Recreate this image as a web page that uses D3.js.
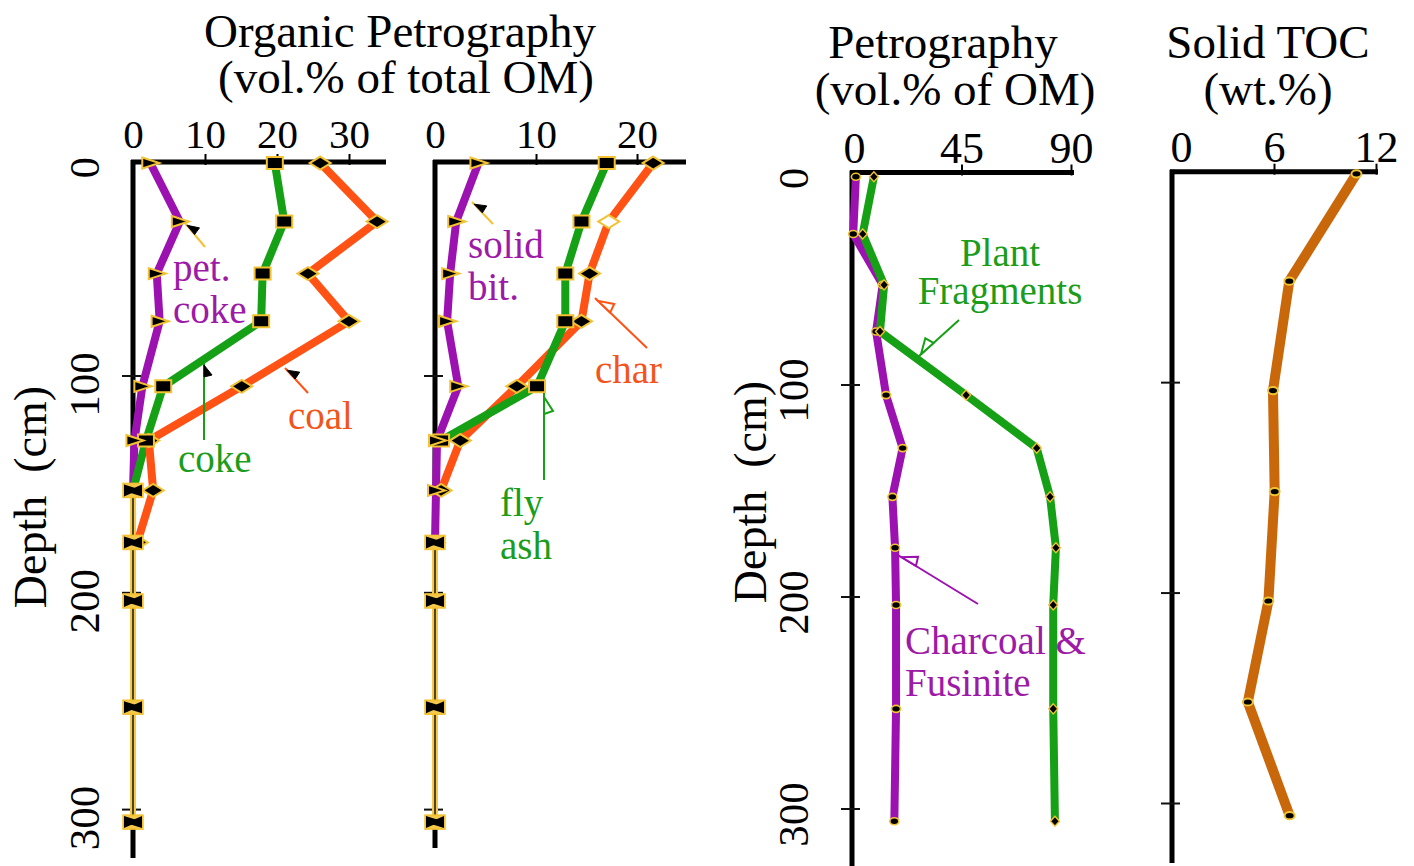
<!DOCTYPE html>
<html>
<head>
<meta charset="utf-8">
<script src="https://cdn.jsdelivr.net/npm/d3@7"></script>
<style>
  html, body { margin: 0; padding: 0; background: #fff; }
  svg { display: block; font-family: "Liberation Serif", "Times New Roman", serif; }
</style>
</head>
<body>
<svg id="chart" width="1414" height="866"></svg>
<script>
// ---- Sample depths (cm) ----
const sampleDepths = [2, 29, 53, 75, 105, 130, 153, 177, 204, 253, 306];
const tocDepths    = [1, 52, 104, 152, 204, 252, 306];
const depthTicks   = [0, 100, 200, 300];

// ---- Organic petrography, vol.% of total OM (left pair of columns) ----
const petCoke  = [2.4, 6.5, 3.3, 3.7, 1.3, 0.2, 0, null, null, null, null];
const coke     = [19.7, 21.0, 18.0, 17.8, 4.2, 1.8, 0, null, null, null, null];
const coal     = [26.0, 33.9, 24.3, 30.0, 15.1, 2.2, 2.8, 0.6, null, null, null];
const zeroA    = [null, null, null, null, null, null, 0, 0, 0, 0, 0];

const solidBit = [4.3, 2.1, 1.5, 1.2, 2.3, 0.2, 0.1, 0, null, null, null];
const flyAsh   = [17.0, 14.5, 12.9, 12.9, 10.1, 0.6, null, null, null, null, null];
const charVals = [21.6, 17.2, 15.3, 14.5, 8.1, 2.5, 0.6, null, null, null, null];
const charOpenIndex = 1;          // sample plotted with an open marker
const zeroB    = [null, null, null, null, null, null, null, 0, 0, 0, 0];

// ---- Petrography, vol.% of OM ----
const plantFragments = [9.0, 4.4, 13.2, 11.5, 46.9, 75.9, 81.4, 83.8, 82.7, 82.7, 83.4];
const charcoalFusinite = [1.6, 0.5, 12.6, 9.9, 14.0, 20.8, 16.6, 17.7, 18.1, 18.1, 17.4];

// ---- Solid TOC, wt.% ----
const solidTOC = [10.85, 6.9, 5.94, 6.04, 5.67, 4.46, 6.92];

// ---- Axis tick values ----
const ticksA = [0, 10, 20, 30];
const ticksB = [0, 10, 20];
const ticksC = [0, 45, 90];
const ticksD = [0, 6, 12];

// ---- Styling ----
const COL = {
  purple: "#9c12b0", purpleText: "#9d1aa6",
  green: "#16a016", greenText: "#1b9c1b",
  orange: "#ff5214", orangeText: "#f2541c",
  brown: "#c9680b",
  gold: "#f2c232", track: "#f6c84a"
};

const svg = d3.select("#chart");

// depth scales
const yAB = d3.scaleLinear().domain([0, 300]).range([158.7, 809.1]);
const yC  = d3.scaleLinear().domain([0, 300]).range([172.5, 808.5]);
const yD  = d3.scaleLinear().domain([0, 300]).range([171.7, 803]);

// value scales
const xA = d3.scaleLinear().domain([0, 35]).range([133, 385]);
const xB = d3.scaleLinear().domain([0, 24.75]).range([435, 685]);
const xC = d3.scaleLinear().domain([0, 90]).range([852, 1071]);
const xD = d3.scaleLinear().domain([0, 12]).range([1172, 1376]);

const panels = [
  { x: xA, y: yAB, ticks: ticksA, axisY: 162, axisEnd: 386, yBottom: 858, labelGap: 7, fs: 41, zeroShift: 0 },
  { x: xB, y: yAB, ticks: ticksB, axisY: 162, axisEnd: 686, yBottom: 848, labelGap: 7, fs: 41, zeroShift: 0 },
  { x: xC, y: yC,  ticks: ticksC, axisY: 172.5, axisEnd: 1074, yBottom: 866, labelGap: 3, fs: 44, zeroShift: 2 },
  { x: xD, y: yD,  ticks: ticksD, axisY: 171.7, axisEnd: 1378, yBottom: 863, labelGap: 3, fs: 44, zeroShift: 9 }
];

// ---- Axes ----
panels.forEach(p => {
  const x0 = p.x.range()[0];
  // depth axis (thick vertical line with crossing ticks)
  svg.append("line")
    .attr("x1", x0).attr("x2", x0)
    .attr("y1", p.axisY - 2).attr("y2", p.yBottom)
    .attr("stroke", "#000").attr("stroke-width", 5);

  const ya = svg.append("g")
    .attr("transform", `translate(${x0},0)`)
    .call(d3.axisLeft(p.y).tickValues(depthTicks.slice(1)).tickFormat("").tickSize(10).tickSizeOuter(0));
  ya.select(".domain").remove();
  ya.selectAll(".tick line").attr("x1", 8).attr("x2", -11)
    .attr("stroke", "#111").attr("stroke-width", 2);

  // value axis on top
  const xa = svg.append("g")
    .attr("transform", `translate(0,${p.axisY})`)
    .call(d3.axisTop(p.x).tickValues(p.ticks).tickSize(7).tickPadding(p.labelGap).tickSizeOuter(0));
  xa.select(".domain").remove();
  xa.append("line")
    .attr("x1", x0 - 2).attr("x2", p.axisEnd)
    .attr("stroke", "#000").attr("stroke-width", 5);
  xa.selectAll(".tick line").attr("y2", -8).attr("y1", 3)
    .attr("stroke", "#000").attr("stroke-width", 2)
    .filter(d => d === 0).remove();
  xa.selectAll(".tick text")
    .attr("font-size", p.fs).attr("fill", "#000")
    .attr("dx", d => d === 0 ? p.zeroShift : 0)
    .attr("font-family", "Liberation Serif, Times New Roman, serif");
});

// depth tick labels (rotated)
function depthLabels(scale, xBase, offset) {
  svg.append("g").selectAll("text").data(depthTicks).join("text")
    .attr("transform", d => `translate(${xBase},${scale(d) + offset}) rotate(-90)`)
    .attr("text-anchor", "middle")
    .attr("font-size", 43)
    .attr("fill", "#000")
    .text(d => d);
}
depthLabels(yAB, 99, 9);
depthLabels(yC, 808, 6);

function depthTitle(x, y) {
  svg.append("text")
    .attr("transform", `translate(${x},${y}) rotate(-90)`)
    .attr("text-anchor", "middle")
    .attr("font-size", 46)
    .attr("fill", "#000")
    .text("Depth\u00a0\u00a0(cm)");
}
depthTitle(46, 497);
depthTitle(766, 492);

// ---- Titles ----
const titles = [
  { t: "Organic Petrography", x: 400, y: 47 },
  { t: "(vol.% of total OM)", x: 406, y: 93 },
  { t: "Petrography", x: 943, y: 58 },
  { t: "(vol.% of OM)", x: 955, y: 105 },
  { t: "Solid TOC", x: 1268, y: 58 },
  { t: "(wt.%)", x: 1268, y: 105 }
];
svg.append("g").selectAll("text").data(titles).join("text")
  .attr("x", d => d.x).attr("y", d => d.y)
  .attr("text-anchor", "middle").attr("font-size", 47).attr("fill", "#000")
  .text(d => d.t);

// ---- Marker shapes ----
const SHAPES = {
  triR: "M-8,-5.5L9,0L-8,5.5Z",
  rect: "M-8,-6H8V6H-8Z",
  diamond: "M0,-6.5L10.5,0L0,6.5L-10.5,0Z",
  smallDiamond: "M0,-5L4.5,0L0,5L-4.5,0Z"
};

function drawSeries(xs, ys, depths, values, color, width) {
  const pts = values.map((v, i) => ({ v, d: depths[i], i }));
  const line = d3.line()
    .defined(p => p.v !== null)
    .x(p => xs(p.v)).y(p => ys(p.d));
  svg.append("path").datum(pts)
    .attr("d", line)
    .attr("fill", "none").attr("stroke", color)
    .attr("stroke-width", width).attr("stroke-linejoin", "miter");
  return pts.filter(p => p.v !== null);
}

function drawMarkers(pts, xs, ys, shape, fillFn, strokeW) {
  svg.append("g").selectAll("path").data(pts).join("path")
    .attr("transform", p => `translate(${xs(p.v)},${ys(p.d)})`)
    .attr("d", shape)
    .attr("fill", p => fillFn ? fillFn(p) : "#000")
    .attr("stroke", COL.gold).attr("stroke-width", strokeW || 2)
    .attr("stroke-linejoin", "miter");
}

function drawEllipses(pts, xs, ys, rx, ry, sw) {
  svg.append("g").selectAll("ellipse").data(pts).join("ellipse")
    .attr("cx", p => xs(p.v)).attr("cy", p => ys(p.d))
    .attr("rx", rx).attr("ry", ry)
    .attr("fill", "#000").attr("stroke", COL.gold).attr("stroke-width", sw);
}

function drawZeroTrack(xs, ys, values) {
  const pts = values.map((v, i) => ({ v, d: sampleDepths[i] }));
  const line = d3.line().defined(p => p.v !== null).x(p => xs(p.v)).y(p => ys(p.d));
  svg.append("path").datum(pts).attr("d", line)
    .attr("fill", "none").attr("stroke", COL.track).attr("stroke-width", 6);
  svg.append("path").datum(pts).attr("d", line)
    .attr("fill", "none").attr("stroke", "#222").attr("stroke-width", 1.6);
  return pts.filter(p => p.v !== null);
}

function drawBowties(pts, xs, ys) {
  const g = svg.append("g").selectAll("g").data(pts).join("g")
    .attr("transform", p => `translate(${xs(p.v)},${ys(p.d)})`);
  g.append("rect").attr("x", -10).attr("y", -7).attr("width", 20).attr("height", 14)
    .attr("fill", COL.track).attr("stroke", COL.gold).attr("stroke-width", 1.5);
  g.append("path").attr("d", "M-9,-6L7,-1L-9,6Z").attr("fill", "#000");
  g.append("path").attr("d", "M9,-6L-7,1L9,6Z").attr("fill", "#000");
}

// Panel A
const trA = drawZeroTrack(xA, yAB, zeroA);
const pA1 = drawSeries(xA, yAB, sampleDepths, petCoke, COL.purple, 8);
const pA2 = drawSeries(xA, yAB, sampleDepths, coke, COL.green, 8);
const pA3 = drawSeries(xA, yAB, sampleDepths, coal, COL.orange, 8);
drawMarkers(pA3, xA, yAB, SHAPES.diamond);
drawMarkers(pA2, xA, yAB, SHAPES.rect);
drawMarkers(pA1, xA, yAB, SHAPES.triR);
drawBowties(trA, xA, yAB);

// Panel B
const trB = drawZeroTrack(xB, yAB, zeroB);
const pB1 = drawSeries(xB, yAB, sampleDepths, solidBit, COL.purple, 8);
const pB3 = drawSeries(xB, yAB, sampleDepths, charVals, COL.orange, 8);
const pB2 = drawSeries(xB, yAB, sampleDepths, flyAsh, COL.green, 8);
drawMarkers(pB3, xB, yAB, SHAPES.diamond, p => p.i === charOpenIndex ? "#fff" : "#000");
drawMarkers(pB2, xB, yAB, SHAPES.rect);
drawMarkers(pB1, xB, yAB, SHAPES.triR);
drawBowties(trB, xB, yAB);

// Panel C
const pC1 = drawSeries(xC, yC, sampleDepths, charcoalFusinite, COL.purple, 8);
const pC2 = drawSeries(xC, yC, sampleDepths, plantFragments, COL.green, 8);
drawEllipses(pC1, xC, yC, 4.5, 3.5, 1.6);
drawMarkers(pC2, xC, yC, SHAPES.smallDiamond, null, 1.4);

// Panel D
const pD = drawSeries(xD, yD, tocDepths, solidTOC, COL.brown, 10);
drawEllipses(pD, xD, yD, 5, 3.6, 2);

// ---- Series labels ----
const annotations = [
  { lines: ["pet.", "coke"], x: 173, y: [281, 323], color: COL.purpleText },
  { lines: ["coke"], x: 178, y: [472], color: COL.greenText },
  { lines: ["coal"], x: 288, y: [429], color: COL.orangeText },
  { lines: ["solid", "bit."], x: 468, y: [258, 300], color: COL.purpleText },
  { lines: ["char"], x: 595, y: [383], color: COL.orangeText },
  { lines: ["fly", "ash"], x: 500, y: [516, 559], color: COL.greenText },
  { lines: ["Plant", "Fragments"], x: 1000, y: [266, 304], color: COL.greenText, anchor: "middle" },
  { lines: ["Charcoal &", "Fusinite"], x: 905, y: [654, 696], color: COL.purpleText }
];
annotations.forEach(a => {
  a.lines.forEach((t, k) => {
    svg.append("text")
      .attr("x", a.x).attr("y", a.y[k])
      .attr("text-anchor", a.anchor || "start")
      .attr("font-size", 39).attr("fill", a.color)
      .text(t);
  });
});

// ---- Leader lines with flag heads ----
const pointers = [
  { from: [205, 247], to: [185, 223], stroke: COL.gold, head: "solid" },
  { from: [204, 440], to: [204, 362], stroke: COL.green, head: "solid" },
  { from: [308, 393], to: [285, 368], stroke: COL.orange, head: "solid" },
  { from: [493, 224], to: [472, 202], stroke: COL.gold, head: "solid" },
  { from: [647, 348], to: [595, 298], stroke: COL.orange, head: "open" },
  { from: [544, 480], to: [544, 393], stroke: COL.green, head: "open" },
  { from: [959, 320], to: [918, 357], stroke: COL.green, head: "open" },
  { from: [978, 604], to: [898, 555], stroke: COL.purple, head: "open" }
];
pointers.forEach(p => {
  const [fx, fy] = p.from, [tx, ty] = p.to;
  const len = Math.hypot(fx - tx, fy - ty);
  const ux = (fx - tx) / len, uy = (fy - ty) / len;
  const nx = uy, ny = -ux;
  svg.append("line")
    .attr("x1", fx).attr("y1", fy).attr("x2", tx).attr("y2", ty)
    .attr("stroke", p.stroke).attr("stroke-width", 2);
  const solid = p.head === "solid";
  const a = solid ? 3 : 4, b = solid ? 15 : 21, c = solid ? 13 : 18, w = solid ? 8 : 9;
  const pts = [
    [tx + ux * a, ty + uy * a],
    [tx + ux * b, ty + uy * b],
    [tx + ux * c + nx * w, ty + uy * c + ny * w]
  ];
  svg.append("path")
    .attr("d", "M" + pts.map(q => q.join(",")).join("L") + "Z")
    .attr("fill", solid ? "#000" : "#fff")
    .attr("stroke", solid ? "#000" : p.stroke)
    .attr("stroke-width", solid ? 1 : 2)
    .attr("stroke-linejoin", "miter");
});
</script>
</body>
</html>
